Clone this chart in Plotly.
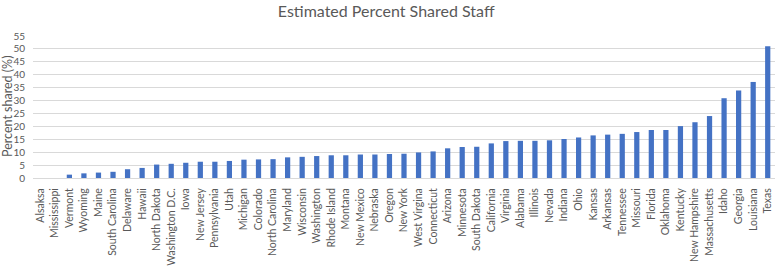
import plotly.graph_objects as go

states = ["Alsaksa", "Mississippi", "Vermont", "Wyoming", "Maine", "South Carolina", "Delaware", "Hawaii",
          "North Dakota", "Washington D.C.", "Iowa", "New Jersey", "Pennsylvania", "Utah", "Michigan",
          "Colorado", "North Carolina", "Maryland", "Wisconsin", "Washington", "Rhode Island", "Montana",
          "New Mexico", "Nebraska", "Oregon", "New York", "West Virgina", "Connecticut", "Arizona",
          "Minnesota", "South Dakota", "California", "Virginia", "Alabama", "Illinois", "Nevada", "Indiana",
          "Ohio", "Kansas", "Arkansas", "Tennessee", "Missouri", "Florida", "Oklahoma", "Kentucky",
          "New Hampshire", "Massachusetts", "Idaho", "Georgia", "Louisiana", "Texas"]
percent_shared = [0, 0, 1.3, 1.8, 2.1, 2.4, 3.4, 3.9, 5.2, 5.5, 5.9, 6.3, 6.3, 6.6, 7.1, 7.2, 7.3, 8.0,
                  8.2, 8.5, 8.8, 8.8, 9.1, 9.1, 9.3, 9.4, 9.9, 10.3, 11.5, 12.0, 12.1, 13.4, 14.3, 14.4,
                  14.4, 14.6, 15.1, 15.7, 16.5, 16.8, 17.1, 17.8, 18.6, 18.6, 20.1, 21.6, 24.0, 30.9,
                  33.9, 37.2, 51.0]
y_ticks = list(range(0, 56, 5))

fig = go.Figure(go.Bar(x=states, y=percent_shared, marker_color="#4472C4", marker_line_width=0))

font = "Lato, 'Open Sans', sans-serif"
fig.update_layout(
    width=777, height=270,
    margin=dict(l=33, r=2, t=36, b=92, autoexpand=False),
    paper_bgcolor="white", plot_bgcolor="white",
    bargap=0.64,
    showlegend=False,
    title=dict(text="Estimated Percent Shared Staff", x=0.497, xanchor="center", y=0.958, yanchor="middle",
               font=dict(family=font, size=16, color="#595959")),
    font=dict(family=font, color="#595959"),
    annotations=[dict(text="Percent shared (%)", xref="paper", yref="paper", x=-26 / 742, y=0.5,
                      xanchor="center", yanchor="middle", textangle=-90, showarrow=False,
                      font=dict(family=font, size=12.5, color="#595959"))],
)
fig.update_xaxes(tickangle=-90, tickfont=dict(size=10.5, color="#595959"), showgrid=False,
                 tickmode="array", tickvals=states, ticktext=states,
                 showline=True, linecolor="#d9d9d9", linewidth=1,
                 ticks="outside", ticklen=5, tickcolor="rgba(0,0,0,0)", automargin=False)
fig.update_yaxes(range=[0, 55], tickvals=y_ticks, tickfont=dict(size=10, color="#595959"),
                 showgrid=True, gridcolor="#d9d9d9", gridwidth=1, zeroline=False,
                 ticks="outside", ticklen=5, tickcolor="rgba(0,0,0,0)", automargin=False)
fig.write_html("out.html", config={"displayModeBar": False},
               post_script="document.body.style.margin='0';document.body.style.overflow='hidden';")
